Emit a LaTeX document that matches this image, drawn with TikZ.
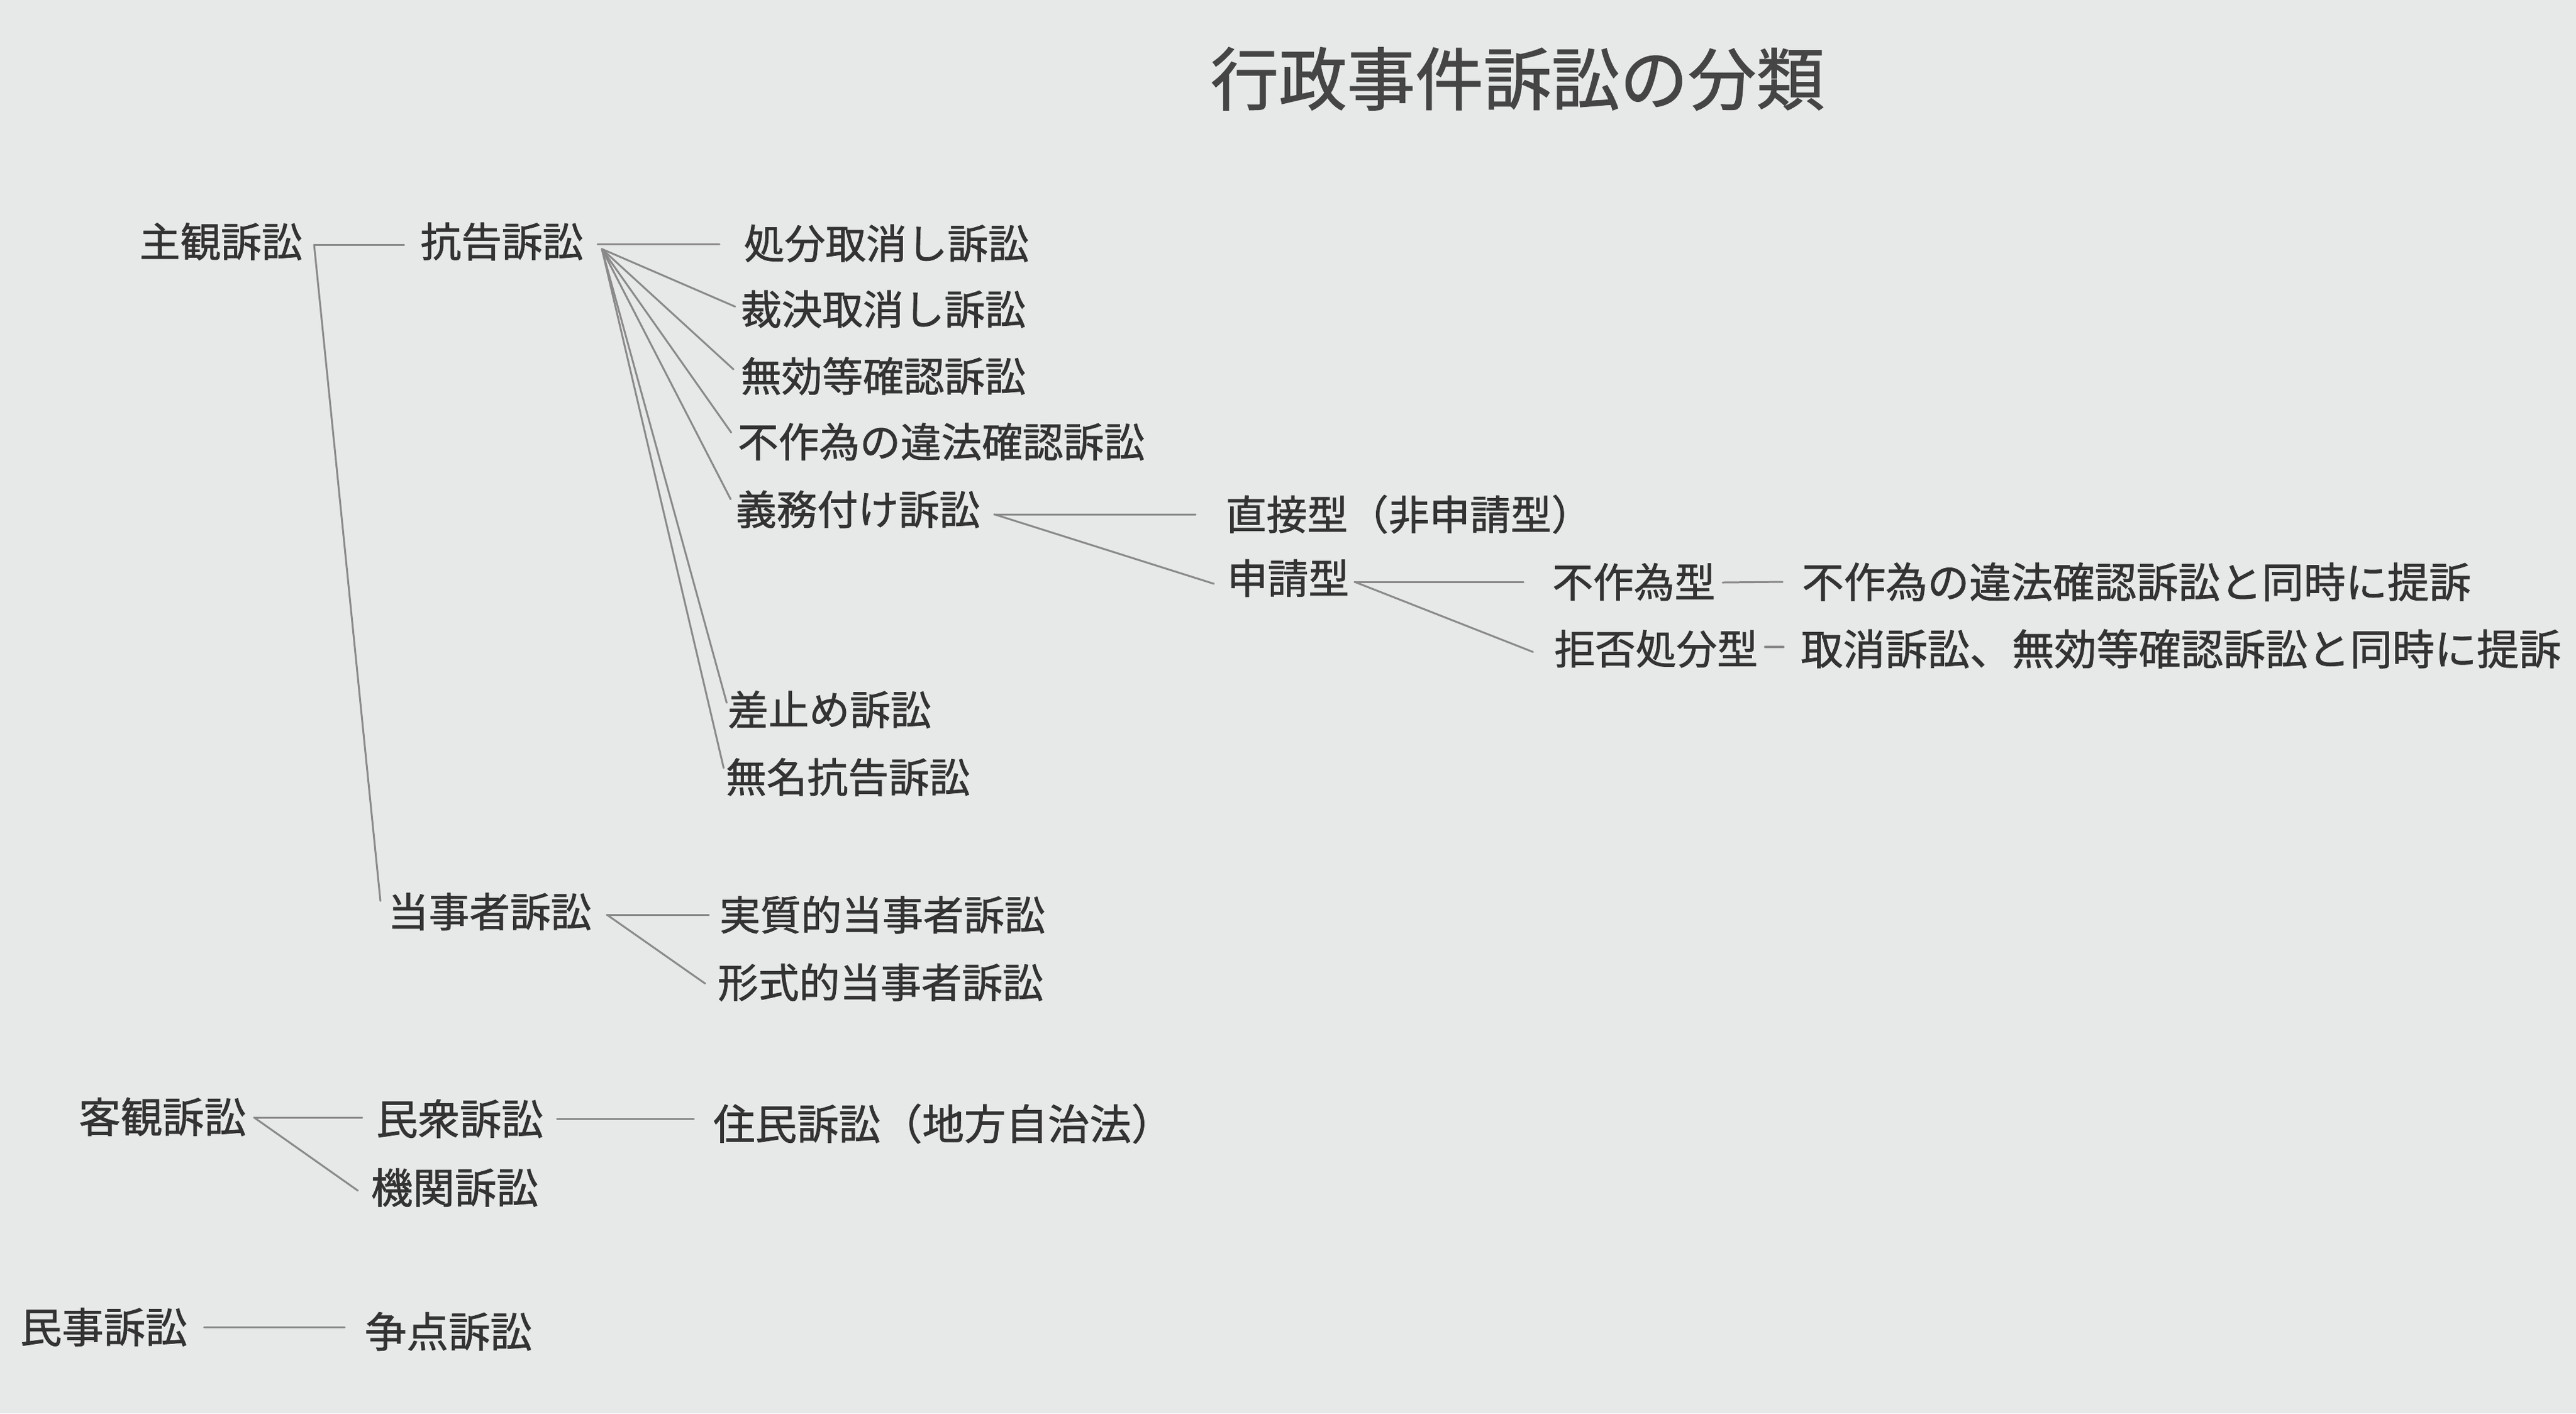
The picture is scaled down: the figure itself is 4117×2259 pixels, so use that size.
\documentclass[tikz,border=0pt]{standalone}
\usepackage{fontspec}
\setmainfont{Noto Sans CJK JP}[FakeBold=1.2]
\definecolor{paper}{HTML}{E7E8E8}
\definecolor{ink}{HTML}{333333}
\definecolor{titleink}{HTML}{454545}
\definecolor{rulec}{HTML}{8A8A8A}
\begin{document}
\begin{tikzpicture}[x=0.01cm,y=-0.01cm,
  lbl/.style={anchor=west,inner sep=0pt,outer sep=0pt,text=ink,font=\fontsize{18.5pt}{20pt}\selectfont},
  lblB/.style={lbl,font=\fontsize{19pt}{21pt}\selectfont},
  lblR/.style={lbl,font=\fontsize{19pt}{21pt}\selectfont},
  lblRR/.style={lbl,font=\fontsize{19.2pt}{21pt}\selectfont},
  ttl/.style={anchor=west,inner sep=0pt,text=titleink,font=\fontsize{31pt}{33pt}\selectfont},
  conn/.style={draw=rulec,line width=0.85pt,line cap=round}]
\fill[paper] (0,0) rectangle (4117,2259);
\useasboundingbox (0,0) rectangle (4117,2259);

% title
\node[ttl] (title) at (1934,126) {行政事件訴訟の分類};

% subjective suits
\node[lbl] (shukan) at (223,386) {主観訴訟};
\node[lbl] (kokoku) at (672,386) {抗告訴訟};
\node[lbl] (shobun) at (1189,389) {処分取消し訴訟};
\node[lbl] (saiketsu) at (1184,494) {裁決取消し訴訟};
\node[lbl] (mukou) at (1184,601) {無効等確認訴訟};
\node[lbl] (fusakui) at (1179,706) {不作為の違法確認訴訟};
\node[lbl] (gimu) at (1176,814) {義務付け訴訟};
\node[lbl] (sashitome) at (1163,1134) {差止め訴訟};
\node[lbl] (mumei) at (1160,1242) {無名抗告訴訟};
\node[lbl] (chokusetsu) at (1959,822) {直接型（非申請型）};
\node[lbl] (shinsei) at (1961,924) {申請型};
\node[lbl] (fusakuigata) at (2481,930) {不作為型};
\node[lblR] (fusakuiR) at (2880,930) {不作為の違法確認訴訟と同時に提訴};
\node[lbl] (kyohi) at (2484,1037) {拒否処分型};
\node[lblRR] (kyohiR) at (2878,1037) {取消訴訟、無効等確認訴訟と同時に提訴};
\node[lbl] (tojisha) at (620,1457) {当事者訴訟};
\node[lbl] (jisshitsu) at (1150,1462) {実質的当事者訴訟};
\node[lbl] (keishiki) at (1147,1570) {形式的当事者訴訟};

% objective suits
\node[lblB] (kyakkan) at (126,1785) {客観訴訟};
\node[lblB] (minshu) at (601,1788) {民衆訴訟};
\node[lblB] (kikan) at (593,1898) {機関訴訟};
\node[lblB] (jumin) at (1140,1796) {住民訴訟（地方自治法）};

% civil suits
\node[lblB] (minji) at (32,2121) {民事訴訟};
\node[lblB] (soten) at (583,2128) {争点訴訟};

% junctions
\coordinate (sJ) at (502,391);
\coordinate (kJ) at (955,390);
\coordinate (kF) at (962,398);
\coordinate (gJ) at (1589,822);
\coordinate (shJ) at (2165,930);
\coordinate (fgJ) at (2753,931);
\coordinate (tJ) at (970,1462);
\coordinate (oJ) at (406,1786);

% connectors
\draw[conn] (sJ) -- ([xshift=-0.26cm]kokoku.west |- sJ);
\draw[conn] (sJ) -- ([shift={(-12,-17)}]tojisha.west);

\draw[conn] (kJ) -- ([xshift=-0.39cm]shobun.west |- kJ);
\draw[conn,shorten >=0.10cm] (kF) -- (saiketsu.west);
\draw[conn,shorten >=0.16cm] (kF) -- (mukou.west);
\draw[conn,shorten >=0.18cm] (kF) -- (fusakui.west);
\draw[conn,shorten >=0.18cm] (kF) -- (gimu.west);
\draw[conn,shorten >=0.06cm] (kF) -- ([yshift=0.05cm]sashitome.west);
\draw[conn,shorten >=0.15cm] (kF) -- (mumei.west);

\draw[conn] (gJ) -- ([xshift=-0.48cm]chokusetsu.west);
\draw[conn] (gJ) -- ([shift={(-21,9)}]shinsei.west);

\draw[conn] (shJ) -- ([xshift=-0.46cm]fusakuigata.west);
\draw[conn] (shJ) -- ([shift={(-34,5)}]kyohi.west);

\draw[conn] (fgJ) -- ([xshift=-0.31cm]fusakuiR.west);
\draw[conn,line width=1.2pt] ([xshift=0.12cm,yshift=0.03cm]kyohi.east) -- ([xshift=-0.28cm,yshift=0.03cm]kyohiR.west);

\draw[conn] (tJ) -- ([xshift=-0.17cm]jisshitsu.west);
\draw[conn] (tJ) -- ([shift={(-20,2)}]keishiki.west);

\draw[conn] (oJ) -- ([xshift=-0.22cm]minshu.west |- oJ);
\draw[conn] (oJ) -- ([shift={(-21,5)}]kikan.west);
\draw[conn,shorten <=0.22cm,shorten >=0.31cm] (minshu.east) -- (jumin.west |- minshu.east);
\draw[conn,shorten <=0.27cm,shorten >=0.32cm] (minji.east) -- (soten.west |- minji.east);
\end{tikzpicture}
\end{document}
